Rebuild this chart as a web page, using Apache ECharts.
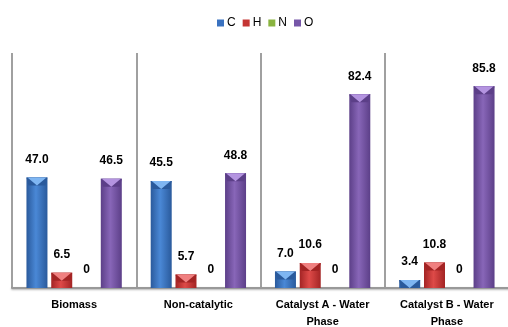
<!DOCTYPE html>
<html>
<head>
<meta charset="utf-8">
<script src="https://cdn.jsdelivr.net/npm/echarts@6/dist/echarts.min.js"></script>
<style>html,body{margin:0;padding:0;background:#fff;}#c{width:508px;height:327px;}</style>
</head>
<body>
<div id="c"></div>
<script>
var categories = ['Biomass', 'Non-catalytic', 'Catalyst A - Water\nPhase', 'Catalyst B - Water\nPhase'];
var seriesNames = ['C', 'H', 'N', 'O'];
var valuesC = [47.0, 45.5, 7.0, 3.4];
var valuesH = [6.5, 5.7, 10.6, 10.8];
var valuesN = [0, 0, 0, 0];
var valuesO = [46.5, 48.8, 82.4, 85.8];

var allValues = [valuesC, valuesH, valuesN, valuesO];
var palette = [
  {dark: '#2a5a9c', mid: '#4a88d6', light: '#7fb6f2', base: '#3a72c0'},
  {dark: '#a32424', mid: '#de4a48', light: '#f08080', base: '#c43533'},
  {dark: '#6f9a2e', mid: '#9cc957', light: '#c3e68a', base: '#8ab440'},
  {dark: '#5c3f88', mid: '#8866b8', light: '#b494e0', base: '#7656a8'}
];
var BAR_W = 21, GAP = 0.18;

function grad(p) {
  return new echarts.graphic.LinearGradient(0, 0, 1, 0, [
    {offset: 0, color: p.dark},
    {offset: 0.45, color: p.mid},
    {offset: 1, color: p.dark}
  ]);
}

var series = [];
seriesNames.forEach(function (name, i) {
  series.push({
    name: name,
    type: 'bar',
    barWidth: BAR_W,
    barGap: (GAP * 100) + '%',
    data: allValues[i],
    itemStyle: {color: grad(palette[i])},
    label: {
      show: true, position: 'top', distance: 12,
      fontFamily: 'Liberation Sans', fontWeight: 'bold', fontSize: 12, color: '#000',
      formatter: function (p) { return p.value === 0 ? '0' : p.value.toFixed(1); }
    },
    z: 2
  });
});
// caps
seriesNames.forEach(function (name, i) {
  var step = BAR_W * (1 + GAP);
  var total = 4 * BAR_W + 3 * BAR_W * GAP;
  var off = -total / 2 + i * step + BAR_W / 2;
  series.push({
    name: 'cap' + name,
    type: 'custom',
    data: allValues[i].map(function (v, k) { return [k, v]; }),
    z: 5,
    silent: true,
    renderItem: function (params, api) {
      var v = api.value(1);
      if (!v) return null;
      var top = api.coord([api.value(0), v]);
      var base = api.coord([api.value(0), 0]);
      var cx = top[0] + off;
      var x0 = cx - BAR_W / 2, x1 = cx + BAR_W / 2;
      var h = Math.min(8, base[1] - top[1]);
      var p = palette[i];
      return {
        type: 'group',
        children: [
          {type: 'polygon', shape: {points: [[x0, top[1]], [x1, top[1]], [x1 - 2, top[1] + h], [x0 + 2, top[1] + h]]}, style: {fill: p.dark}},
          {type: 'polygon', shape: {points: [[x0 + 1, top[1]], [x1 - 1, top[1]], [cx, top[1] + h]]}, style: {fill: p.light}}
        ]
      };
    }
  });
});

var chart = echarts.init(document.getElementById('c'));
chart.setOption({
  animation: false,
  legend: {
    data: seriesNames.map(function (n, i) { return {name: n, itemStyle: {color: palette[i].base}}; }),
    top: 12, left: 212,
    icon: 'rect', itemWidth: 7, itemHeight: 7, itemGap: 7,
    textStyle: {fontFamily: 'Liberation Sans', fontSize: 12, color: '#000', padding: [0, 0, 0, -2]}
  },
  grid: {left: 12, width: 497, top: 53, bottom: 39, containLabel: false, outerBoundsMode: 'none'},
  xAxis: {
    type: 'category',
    data: categories,
    axisLine: {lineStyle: {color: '#999', width: 2, shadowColor: 'rgba(0,0,0,0.3)', shadowBlur: 2, shadowOffsetY: 1}},
    axisTick: {show: false},
    splitLine: {show: true, interval: 0, lineStyle: {color: '#a0a0a0', width: 2}},
    axisLabel: {interval: 0, margin: 8, fontFamily: 'Liberation Sans', fontWeight: 'bold', fontSize: 11, color: '#000', lineHeight: 17}
  },
  yAxis: {type: 'value', min: 0, max: 100, show: false, splitLine: {show: false}},
  series: series
});
</script>
</body>
</html>
